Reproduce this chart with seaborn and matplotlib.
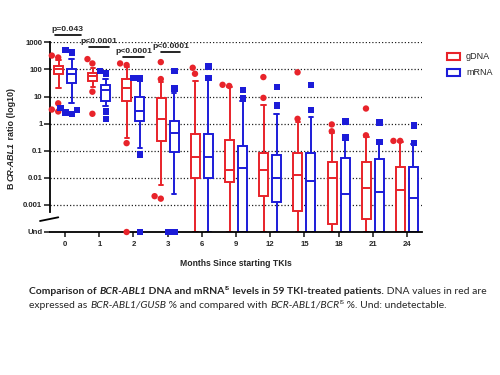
import numpy as np
import pandas as pd
import matplotlib
matplotlib.use("Agg")
import matplotlib.pyplot as plt
from matplotlib.patches import Rectangle
from matplotlib.lines import Line2D
import seaborn as sns

# ---------------- data (ratio units, UND = undetectable) ----------------
months = ["0", "1", "2", "3", "6", "9", "12", "15", "18", "21", "24"]
types = ["gDNA", "mRNA"]
UND = 0.0

gdna_low = [20, 23, 0.3, 0.0056, UND, UND, UND, UND, UND, UND, UND]
gdna_q1 = [68, 36, 6.6, 0.23, 0.0095, 0.0069, 0.0022, 0.00058, 0.0002, 0.0003, UND]
gdna_med = [100, 55, 20, 1.5, 0.06, 0.0195, 0.0195, 0.0126, 0.0098, 0.0043, 0.0035]
gdna_q3 = [135, 76, 46, 8.9, 0.40, 0.24, 0.079, 0.079, 0.039, 0.038, 0.025]
gdna_high = [215, 110, 126, 35, 37, 22, 4.8, 1.1, 0.45, 0.32, 0.21]
gdna_out = [[275, 324, 5.6, 2.8, 3.3], [166, 240, 15, 2.3], [145, 166, 0.19, UND],
            [44, 186, 0.0017, 0.0021], [69, 115], [24.5, 27], [52, 8.9], [78, 1.5],
            [0.93, 0.52], [3.6, 0.37], [0.23, 0.23]]

mrna_low = [5.6, 4.3, 0.13, 0.0025, UND, UND, UND, UND, UND, UND, UND]
mrna_q1 = [32, 6.9, 1.3, 0.091, 0.0098, UND, 0.0013, UND, UND, UND, UND]
mrna_med = [66, 17, 3.0, 0.45, 0.06, 0.023, 0.0102, 0.0078, 0.0025, 0.0029, 0.0018]
mrna_q3 = [100, 26, 10, 1.2, 0.40, 0.155, 0.072, 0.079, 0.056, 0.049, 0.025]
mrna_high = [245, 43, 42, 14, 40, 7, 2.2, 1.8, 0.25, 0.17, 0.17]
mrna_out = [[525, 427, 3.8, 3.2, 2.6, 2.3], [71, 89, 2.8, 1.5], [46, 48, 0.072, UND],
            [87, 19.5, UND, UND], [126, 47], [17.8, 8.3], [22, 4.7], [26, 3.2],
            [1.2, 0.31], [1.1, 0.21], [0.85, 0.195]]

ytick_vals = [1000, 100, 10, 1, 0.1, 0.01, 0.001, UND]
ytick_labels = ["1000", "100", "10", "1", "0.1", "0.01", "0.001", "Und"]

p_texts = ["p=0.043", "p<0.0001", "p<0.0001", "p<0.0001"]
p_groups = [0, 1, 2, 3]

# ---------------- style ----------------
sns.set_style("white")
plt.rcParams["font.family"] = ["Liberation Sans", "DejaVu Sans"]
RED = "#e8232a"
BLUE = "#1c1cd8"
UND_LOG = -4.0


def tolog(v):
    return np.log10(v) if v > 0 else UND_LOG


rows, orows = [], []
stats = {"gDNA": (gdna_low, gdna_q1, gdna_med, gdna_q3, gdna_high, gdna_out),
         "mRNA": (mrna_low, mrna_q1, mrna_med, mrna_q3, mrna_high, mrna_out)}
for t in types:
    lo, q1, md, q3, hi, out = stats[t]
    for i, m in enumerate(months):
        for v in (lo[i], q1[i], md[i], q3[i], hi[i]):
            rows.append({"month": m, "type": t, "logv": tolog(v)})
        for v in out[i]:
            orows.append({"month": m, "type": t, "logv": tolog(v)})
box_df = pd.DataFrame(rows)
out_df = pd.DataFrame(orows)

W, H = 500, 375
fig = plt.figure(figsize=(5, 3.75), dpi=100)
ax = fig.add_axes([50 / W, (H - 232) / H, (421.7 - 50) / W, (232 - 42.3) / H])
ax.set_xlim(-0.44, 10.43)
ax.set_ylim(-4, 3)

colors = {"gDNA": RED, "mRNA": BLUE}
markers = {"gDNA": "o", "mRNA": "s"}
for t in types:
    sns.boxplot(data=box_df[box_df["type"] == t], x="month", y="logv", hue="type",
                order=months, hue_order=types,
                palette={"gDNA": "white", "mRNA": "white"}, saturation=1,
                linecolor=colors[t], linewidth=1.4, width=0.76, gap=0.31,
                whis=(0, 100), showfliers=False, dodge=True, legend=False, ax=ax)
for t in types:
    sns.swarmplot(data=out_df[out_df["type"] == t], x="month", y="logv", hue="type",
                  order=months, hue_order=types, palette=colors, dodge=True,
                  marker=markers[t], size=4.6, linewidth=0, legend=False, ax=ax)
for c in ax.collections:
    c.set_clip_on(False)
    c.set_zorder(4)

ax.set_xlim(-0.44, 10.43)
ax.set_ylim(-4, 3)

# dotted grid lines
for v in ytick_vals[:-1]:
    ax.axhline(np.log10(v), color="#222222", lw=0.9, ls=(0, (1, 1.6)), zorder=0.5)

ax.set_yticks([tolog(v) for v in ytick_vals])
ax.set_yticklabels(ytick_labels)
ax.tick_params(axis="y", direction="out", length=4, width=1.2, pad=1.5,
               labelsize=5.6, left=True)
ax.tick_params(axis="x", direction="out", length=3.5, width=1.2, pad=3,
               labelsize=5.6, bottom=True)
for lab in ax.get_xticklabels() + ax.get_yticklabels():
    lab.set_fontweight("bold")
ax.set_xlabel("")
ax.set_ylabel("")
for s in ("top", "right"):
    ax.spines[s].set_visible(False)
for s in ("left", "bottom"):
    ax.spines[s].set_color("black")
    ax.spines[s].set_linewidth(1.3)
ax.spines["left"].set_bounds(-3.25, 3)
# axis break slash
fig.add_artist(Line2D([40 / W, 58.3 / W], [(H - 221) / H, (H - 217.3) / H],
                      transform=fig.transFigure, color="black", lw=1.3))

# p-value annotations
p_levels = [3.28, 2.84, 2.47, 2.66]
p_half = [0.38, 0.29, 0.31, 0.28]
p_shift = [0.08, 0.0, 0.0, 0.09]
for txt, g, lev, hw, sh in zip(p_texts, p_groups, p_levels, p_half, p_shift):
    xc = g + sh
    ax.plot([xc - hw, xc + hw], [lev, lev], color="black", lw=1.2, clip_on=False)
    ax.text(xc, lev + 0.07, txt, ha="center", va="bottom", fontsize=6.1,
            fontweight="bold", clip_on=False)

# legend
for k, (t, yc) in enumerate(zip(types, [56.5, 72.5])):
    fig.add_artist(Rectangle((447 / W, (H - yc - 3.3) / H), 13 / W, 6.6 / H,
                             transform=fig.transFigure, facecolor="white",
                             edgecolor=colors[t], lw=1.5))
    fig.text(466 / W, (H - yc) / H, t, va="center", ha="left", fontsize=6.5)

# x label
fig.text(236 / W, (H - 263.3) / H, "Months Since starting TKIs", ha="center",
         va="center", fontsize=6.2, fontweight="bold")

renderer = fig.canvas.get_renderer()


def run_width(text, **kw):
    t1 = fig.text(0, 0, "|" + text + "|", **kw)
    t2 = fig.text(0, 0, "||", **kw)
    w = t1.get_window_extent(renderer).width - t2.get_window_extent(renderer).width
    t1.remove()
    t2.remove()
    return w


def run_kw(size, weight, style, sup, family):
    return dict(fontsize=size * 0.6 if sup else size, fontweight=weight,
                fontstyle=style, family=family)


# y label (rotated, mixed styles)
yl_runs = [("B", "bold", "normal"), ("CR-ABL1", "bold", "italic"),
           (" ratio (log10)", "bold", "normal")]
yl_fam = ["Liberation Sans", "DejaVu Sans"]
yl_size = 6.4
widths = [run_width(t, fontsize=yl_size, fontweight=w, fontstyle=s, family=yl_fam)
          for t, w, s in yl_runs]
gap_px = 2.0
total = sum(widths) + gap_px
ystart = (H - 138.5) - total / 2
pos = 0.0
for (t, w, s), wd in zip(yl_runs, widths):
    fig.text(13.5 / W, (ystart + pos) / H, t, rotation=90, rotation_mode="anchor",
             ha="left", va="baseline", fontsize=yl_size, fontweight=w, fontstyle=s,
             family=yl_fam)
    pos += wd + (gap_px if t == "B" else 0)

# caption
cap_fam = ["Lato", "DejaVu Sans"]
line1 = [("Comparison of ", "bold", "normal", False), ("BCR-ABL1", "bold", "italic", False),
         (" DNA and mRNA", "bold", "normal", False), ("IS", "bold", "normal", True),
         (" levels in 59 TKI-treated patients.", "bold", "normal", False),
         (" DNA values in red are", "normal", "normal", False)]
line2 = [("expressed as ", "normal", "normal", False), ("BCR-ABL1/GUSB", "normal", "italic", False),
         (" % and compared with ", "normal", "normal", False),
         ("BCR-ABL1/BCR", "normal", "italic", False), ("IS", "normal", "normal", True),
         (" %. Und: undetectable.", "normal", "normal", False)]

base = 7.0
w1 = sum(run_width(t, **run_kw(base, w, s, sp, cap_fam)) for t, w, s, sp in line1)
cap_size = base * (487.3 - 29.3) / w1


def draw_line(runs, x0, ybase):
    x = x0
    for t, w, s, sp in runs:
        kw = run_kw(cap_size, w, s, sp, cap_fam)
        dy = cap_size * 0.42 * 100 / 72 if sp else 0.0
        fig.text(x / W, (H - ybase + dy) / H, t, ha="left", va="baseline", **kw)
        x += run_width(t, **kw)


draw_line(line1, 29.3, 294.5)
draw_line(line2, 29.3, 308.0)

fig.savefig("out.png", dpi=100)
